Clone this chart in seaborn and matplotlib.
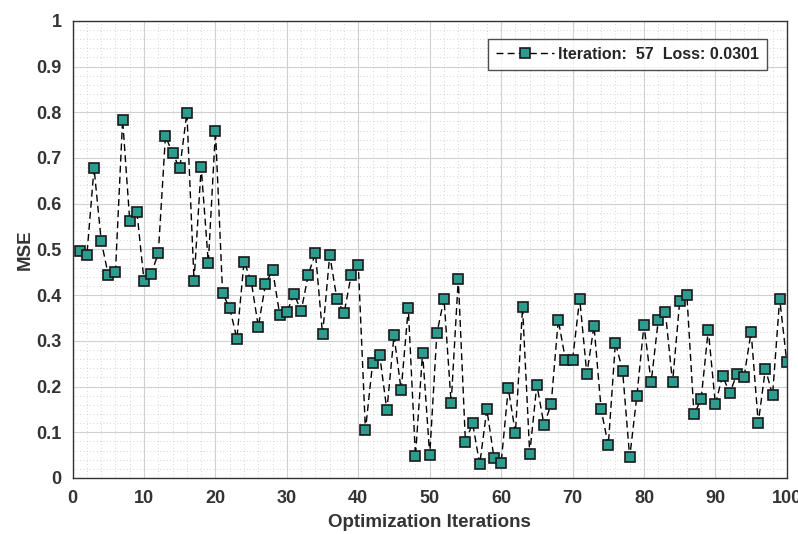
import numpy as np
import pandas as pd
import seaborn as sns
import matplotlib
matplotlib.use('Agg')
import matplotlib.pyplot as plt
from matplotlib.ticker import AutoMinorLocator, MultipleLocator

# MSE per optimisation iteration
iterations = list(range(1, 101))
mse = [0.497, 0.488, 0.678, 0.519, 0.443, 0.451, 0.784, 0.562, 0.582, 0.431,
       0.446, 0.492, 0.748, 0.710, 0.677, 0.799, 0.431, 0.680, 0.471, 0.760,
       0.404, 0.371, 0.305, 0.473, 0.431, 0.331, 0.424, 0.455, 0.357, 0.362,
       0.403, 0.365, 0.445, 0.492, 0.314, 0.488, 0.392, 0.360, 0.443, 0.466,
       0.104, 0.251, 0.268, 0.148, 0.312, 0.192, 0.372, 0.047, 0.274, 0.050,
       0.316, 0.392, 0.163, 0.436, 0.078, 0.120, 0.0301, 0.150, 0.044, 0.033,
       0.196, 0.098, 0.374, 0.053, 0.204, 0.116, 0.161, 0.346, 0.259, 0.259,
       0.392, 0.227, 0.333, 0.150, 0.071, 0.296, 0.235, 0.045, 0.179, 0.335,
       0.209, 0.345, 0.362, 0.209, 0.386, 0.401, 0.139, 0.172, 0.324, 0.161,
       0.224, 0.185, 0.227, 0.220, 0.320, 0.120, 0.239, 0.181, 0.392, 0.253]
legend_label = 'Iteration:  57  Loss: 0.0301'

df = pd.DataFrame({'Iteration': iterations, 'MSE': mse})

sns.set_theme(style='white')
plt.rcParams['font.family'] = ['Liberation Sans', 'DejaVu Sans']

fig = plt.figure(figsize=(7.98, 5.34), dpi=100)
ax = fig.add_axes([0.091, 0.105, 0.895, 0.856])

sns.lineplot(data=df, x='Iteration', y='MSE', ax=ax, color='black',
             linewidth=1, linestyle=(0, (5, 3)), marker='s', markersize=7,
             markerfacecolor='#2b9c8e', markeredgecolor='#1a1a1a',
             markeredgewidth=1.2, label=legend_label)

ax.set_xlim(0, 100)
ax.set_ylim(0, 1)
ax.xaxis.set_major_locator(MultipleLocator(10))
ax.yaxis.set_major_locator(MultipleLocator(0.1))
ax.xaxis.set_minor_locator(AutoMinorLocator(5))
ax.yaxis.set_minor_locator(AutoMinorLocator(5))
ax.yaxis.set_major_formatter(plt.FuncFormatter(lambda v, p: '%g' % round(v, 1)))

ax.grid(which='major', color='#d0d0d0', linewidth=0.8, linestyle='-')
ax.grid(which='minor', color='#c8c8c8', linewidth=0.6, linestyle=(0, (1, 3)))
ax.set_axisbelow(True)

for s in ax.spines.values():
    s.set_color('#333333')
    s.set_linewidth(1)

ax.tick_params(which='major', direction='in', length=5, width=0.8, color='#333333',
               labelsize=13, top=False, right=False)
ax.tick_params(axis='x', pad=9)
ax.tick_params(axis='y', pad=8)
ax.tick_params(which='minor', length=0)
for lab in ax.get_xticklabels() + ax.get_yticklabels():
    lab.set_fontweight('bold')
    lab.set_color('#333333')

ax.set_xlabel('Optimization Iterations', fontsize=13.5, fontweight='bold',
              labelpad=5, color='#333333')
ax.set_ylabel('MSE', fontsize=13.5, fontweight='bold', labelpad=2, color='#333333')

leg = ax.legend(loc='upper right', bbox_to_anchor=(0.984, 0.978),
                prop={'weight': 'bold', 'size': 11.5}, frameon=True, fancybox=False,
                handlelength=3.6, handletextpad=0.3, borderpad=0.5)
leg.get_frame().set_edgecolor('#222222')
leg.get_frame().set_linewidth(1)

fig.savefig('out.png', dpi=100)
